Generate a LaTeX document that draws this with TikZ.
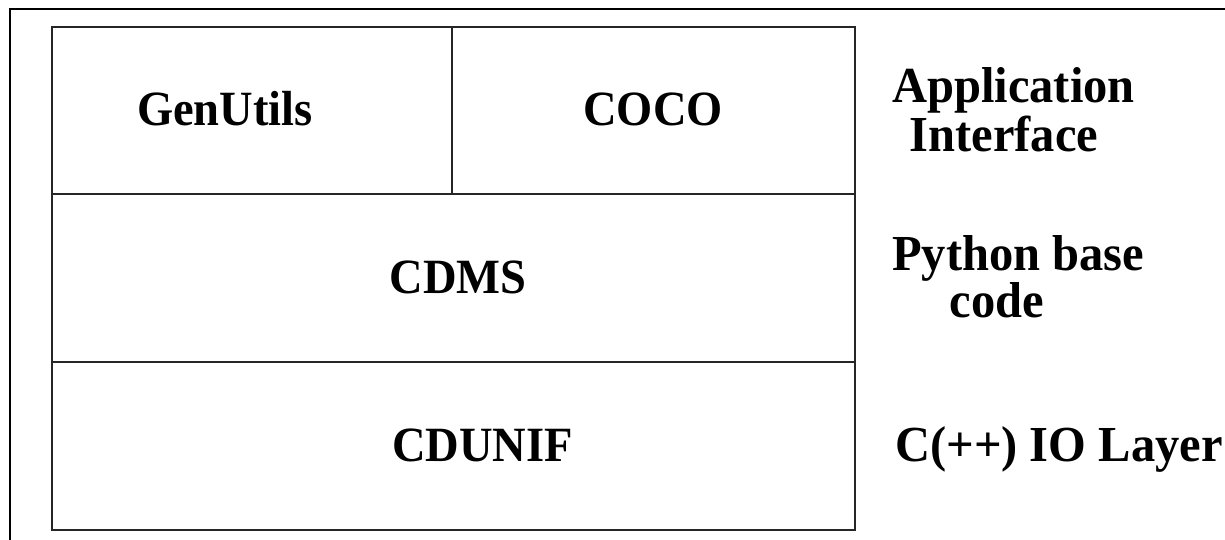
\documentclass[tikz,border=0pt]{standalone}
\usepackage{fontspec}
\setmainfont{Liberation Serif}
\begin{document}
\begin{tikzpicture}[x=1pt,y=-1pt,
  cell/.style={draw=black!85,line width=1.3pt},
  lbl/.style={inner sep=0pt,font=\fontsize{46.5}{46.5}\selectfont\bfseries},
  side/.style={inner sep=0pt,font=\fontsize{48.5}{48.5}\selectfont\bfseries},
  frame/.style={line width=2pt}]
\useasboundingbox (0,0) rectangle (1225,540);
% outer frame (top and left)
\coordinate (ftr) at (1225,9.5);
\coordinate (ftl) at (9.5,9.5);
\coordinate (fbl) at (9.5,540);
\draw[frame] (ftr) -- (ftl) -- (fbl);
% cells
\coordinate (a) at (52,27);
\coordinate (b) at (452,27);
\coordinate (c) at (855,27);
\coordinate (d) at (52,194);
\coordinate (e) at (452,194);
\coordinate (f) at (855,194);
\coordinate (g) at (52,362);
\coordinate (h) at (855,362);
\coordinate (i) at (52,530);
\coordinate (j) at (855,530);
\draw[cell] (a) rectangle (j);
\draw[cell] (d) -- (f);
\draw[cell] (g) -- (h);
\draw[cell] (b) -- (e);
% labels
\node[lbl,anchor=base] (gen) at (225,126) {\scalebox{1}[1.06]{GenUtils}};
\node[lbl,anchor=base] (coco) at (653,126) {\scalebox{1}[1.06]{COCO}};
\node[lbl,anchor=base] (cdms) at (458,293) {\scalebox{1}[1.06]{CDMS}};
\node[lbl,anchor=base west] (cdunif) at (392,461) {\scalebox{1}[1.06]{CDUNIF}};
\node[side,anchor=base west] (app1) at (892,103) {\scalebox{1}[1.04]{Application}};
\node[side,anchor=base] (app2) at (1004,152) {\scalebox{1}[1.04]{Interface}};
\node[side,anchor=base west] (py1) at (892,270) {\scalebox{1}[1.04]{Python base}};
\node[side,anchor=base] (py2) at (997,317) {\scalebox{1}[1.04]{code}};
\node[side,anchor=base west] (cio) at (895,461) {\scalebox{1}[1.04]{C(++) IO Layer}};
\end{tikzpicture}
\end{document}
